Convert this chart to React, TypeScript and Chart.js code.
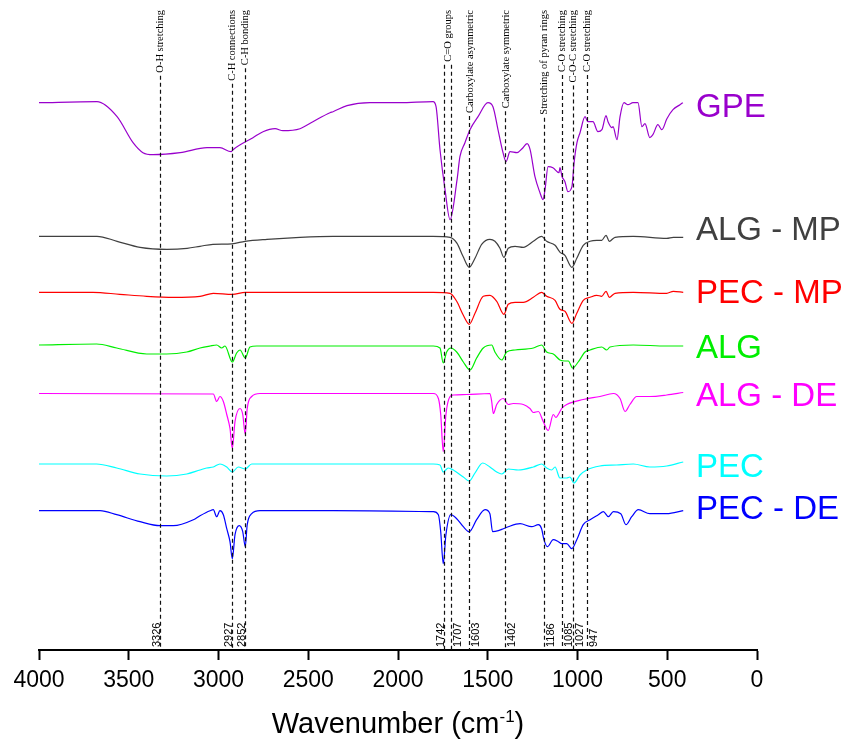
import React, { useEffect, useRef } from 'react';
import { Chart, registerables } from 'chart.js';

Chart.register(...registerables);

// ---------- data ----------
const seriesNames = ['GPE', 'ALG - MP', 'PEC - MP', 'ALG', 'ALG - DE', 'PEC', 'PEC - DE'];
const seriesColors = ['#9900CC', '#404040', '#FF0000', '#00EE00', '#FF00FF', '#00FFFF', '#0000FF'];
// vertical stacking offsets of each spectrum (a.u.)
const seriesOffsets = [547.3, 413.7, 357.7, 305, 256.5, 186, 139.3];

// [wavenumber (cm-1), relative transmittance (a.u.)]
const gpe = [[4000,0],[3677,1],[3565,-14],[3476,-40],[3421,-50],[3365,-52],[3214,-50],[3064,-45],[2992,-45],[2930,-49],[2919,-47],[2808,-35],[2752,-29],[2685,-26],[2641,-28],[2546,-26],[2474,-19],[2379,-10],[2362,-9],[2284,-3],[2156,0],[1989,0],[1805,1],[1788,-4],[1766,-47],[1738,-87],[1710,-117],[1671,-77],[1655,-54],[1627,-40],[1599,-27],[1554,-14],[1499,0],[1471,-4],[1443,-27],[1415,-50],[1398,-59],[1376,-49],[1337,-50],[1309,-46],[1281,-41],[1264,-47],[1237,-74],[1209,-90],[1192,-97],[1181,-87],[1164,-64],[1137,-65],[1103,-70],[1098,-65],[1086,-74],[1070,-79],[1053,-89],[1031,-84],[1019,-60],[1003,-40],[986,-30],[958,-14],[942,-19],[914,-19],[886,-29],[864,-27],[841,-13],[830,-19],[808,-25],[802,-24],[780,-37],[763,-14],[741,0],[719,-2],[691,0],[663,0],[641,-24],[624,-21],[597,-35],[580,-32],[552,-22],[530,-27],[502,-16],[468,-7],[429,-2],[413,0]];
const algMp = [[4000,0],[3677,0],[3565,-5],[3437,-11],[3287,-13],[3175,-12],[3103,-10],[3031,-8],[2925,-7.5],[2852,-5],[2730,-3],[2546,-1],[2362,0],[1805,0],[1710,-1],[1671,-7],[1638,-20],[1603,-31],[1571,-22],[1534,-8],[1488,-3],[1460,-5],[1432,-12],[1410,-21],[1386,-12],[1348,-10],[1302,-11],[1246,-5],[1200,0],[1172,-5],[1125,-9],[1097,-16],[1070,-19],[1031,-31],[1004,-22],[968,-9],[930,-5],[893,-4],[865,-4],[841,1],[823,-5],[791,-1],[689,0],[503,-2],[466,-1],[411,-1]];
const pecMp = [[4000,0],[3700,0],[3550,-2],[3400,-4],[3250,-5],[3103,-4],[3029,-1],[2923,-2],[2851,0],[1803,0],[1710,-1],[1673,-9],[1636,-23],[1603,-32],[1571,-21],[1525,-4],[1488,-3],[1450,-9],[1410,-22],[1386,-12],[1348,-10],[1302,-10],[1246,-5],[1200,0],[1172,-4],[1125,-8],[1098,-17],[1070,-19],[1031,-31],[1004,-21],[968,-8],[930,-5],[893,-3],[865,-4],[841,1],[823,-5],[791,-1],[689,0],[503,-1],[466,1],[411,0]];
const alg = [[4000,0],[3679,1],[3567,-3],[3400,-9],[3289,-9],[3177,-7],[3103,-3],[3047,-1],[3010,0],[2982,-3],[2964,-1],[2923,-17],[2899,-8],[2880,-5],[2851,-13],[2825,-2],[2787,-1],[1803,-1],[1766,-3],[1748,-18],[1729,-7],[1706,-3],[1673,-7],[1636,-17],[1599,-25],[1562,-13],[1525,-3],[1478,0],[1460,-7],[1422,-15],[1395,-7],[1348,-5],[1246,-3],[1200,0],[1172,-7],[1135,-9],[1098,-15],[1070,-16],[1051,-16],[1027,-23],[996,-17],[958,-7],[930,-5],[865,-2],[837,-5],[819,-2],[689,0],[503,-1],[411,-1]];
const algDe = [[4000,0],[3029,-0.5],[3010,-8],[2992,-3],[2973,-8],[2954,-21],[2936,-35],[2923,-55],[2908,-28],[2880,-15],[2865,-21],[2851,-41],[2840,-15],[2815,-3],[2769,0],[1803,0],[1775,-5],[1762,-21],[1748,-58],[1733,-21],[1710,-3],[1692,-1.5],[1617,-1],[1488,0],[1478,-8],[1469,-20],[1450,-11],[1413,-5],[1386,-11],[1358,-10],[1302,-11],[1265,-15],[1246,-19],[1218,-18],[1191,-28],[1163,-37],[1135,-21],[1120,-24],[1107,-21],[1088,-15],[1060,-11],[968,-6],[875,-3],[800,0],[763,-5],[735,-18],[708,-11],[670,-3],[597,-3],[503,-1.5],[411,1]];
const pec = [[4000,0],[3679,0],[3567,-4],[3437,-10],[3289,-12],[3177,-10],[3103,-6],[3066,-4],[3029,-3],[2992,0],[2954,-3],[2923,-8],[2890,-3],[2851,-5],[2815,0],[1803,0],[1766,-1],[1748,-8],[1720,-4],[1692,-6],[1636,-13],[1603,-17],[1571,-9],[1528,1],[1488,-3],[1450,-8],[1422,-10],[1386,-5],[1330,-6],[1246,-3],[1200,0],[1172,-4],[1144,-6],[1125,-3],[1098,-14],[1060,-14],[1042,-13],[1020,-19],[986,-11],[949,-6],[875,-2],[782,-1],[689,0],[597,-3],[503,-2],[411,2]];
const pecDe = [[4000,0],[3660,0],[3567,-4],[3437,-11],[3326,-15],[3252,-15],[3140,-9],[3103,-5],[3047,0],[3029,1],[3010,-6],[2992,0],[2973,-4],[2954,-18],[2936,-31],[2923,-48],[2908,-24],[2884,-15],[2865,-21],[2851,-36],[2840,-14],[2815,-3],[2769,0],[2360,0],[1803,-1],[1775,-4],[1762,-21],[1748,-53],[1733,-24],[1706,-4],[1673,-8],[1636,-16],[1603,-21],[1562,-9],[1515,1],[1488,-3],[1473,-21],[1441,-20],[1413,-18],[1386,-16],[1320,-13],[1255,-16],[1218,-14],[1200,-18],[1187,-29],[1168,-36],[1135,-29],[1107,-31],[1088,-33],[1060,-33],[1032,-38],[1004,-29],[968,-14],[930,-9],[884,-4],[856,-1],[828,-6],[800,-1],[759,-3],[730,-14],[698,-6],[661,1],[597,-3],[503,-3],[411,0]];
const seriesData = [gpe, algMp, pecMp, alg, algDe, pec, pecDe];

// band assignments
const bandLabels = ['O-H stretching', 'C-H connections', 'C-H bonding', 'C=O groups', 'Carboxylate asymmetric', 'Carboxylate symmetric', 'Stretching of pyran rings', 'C-O stretching', 'C-O-C stretching', 'C-O stretching'];
const bandPeaks = [[3326], [2927], [2852], [1742, 1707], [1603], [1402], [1186], [1085], [1027], [947]];
const peakNumbers = [3326, 2927, 2852, 1742, 1707, 1603, 1402, 1186, 1085, 1027, 947];
const peakNumberSide = ['left', 'left', 'left', 'left', 'right', 'right', 'right', 'right', 'right', 'right', 'right'];

const xTickMin = 0;
const xTickMax = 4000;
const xTickStep = 500;

// small vertical shift of each series name (px) relative to its baseline
const labelBaselineShift = [14, 3.7, 10.4, 13.3, 12.5, 12.7, 8.6];

const SANS = "'Liberation Sans', Arial, Helvetica, sans-serif";
const SERIF = "'Liberation Serif', 'Times New Roman', serif";

const annotationPlugin = {
  id: 'ftirAnnotations',
  afterDatasetsDraw(chart: any) {
    const { ctx, chartArea, scales } = chart;
    const xs = scales.x;
    const ys = scales.y;
    ctx.save();

    // band labels + dashed lines
    ctx.font = `10.5px ${SERIF}`;
    ctx.fillStyle = '#000';
    bandLabels.forEach((label, i) => {
      const peaks = bandPeaks[i];
      const px = peaks.reduce((s, p) => s + xs.getPixelForValue(p), 0) / peaks.length;
      const w = ctx.measureText(label).width;
      ctx.save();
      ctx.translate(px + 0.5, 10);
      ctx.rotate(-Math.PI / 2);
      ctx.textAlign = 'right';
      ctx.textBaseline = 'middle';
      ctx.fillText(label, 0, 0);
      ctx.restore();

      ctx.save();
      ctx.setLineDash([4, 3]);
      ctx.strokeStyle = '#111';
      ctx.lineWidth = 1.2;
      peaks.forEach((p) => {
        const lx = Math.round(xs.getPixelForValue(p)) + 0.5;
        ctx.beginPath();
        ctx.moveTo(lx, 10 + w + 3);
        ctx.lineTo(lx, chartArea.bottom);
        ctx.stroke();
      });
      ctx.restore();
    });

    // peak numbers at the bottom
    const fs = 11;
    ctx.font = `${fs}px ${SANS}`;
    ctx.fillStyle = '#000';
    peakNumbers.forEach((p, i) => {
      const lx = Math.round(xs.getPixelForValue(p)) + 0.5;
      const tx = peakNumberSide[i] === 'left' ? lx - 1 : lx + 2 + 0.72 * fs;
      ctx.save();
      ctx.translate(tx, chartArea.bottom - 3);
      ctx.rotate(-Math.PI / 2);
      ctx.textAlign = 'left';
      ctx.textBaseline = 'alphabetic';
      ctx.fillText(String(p), 0, 0);
      ctx.restore();
    });

    // series names
    ctx.font = `33px ${SANS}`;
    ctx.textAlign = 'left';
    ctx.textBaseline = 'alphabetic';
    seriesNames.forEach((name, i) => {
      const y = ys.getPixelForValue(seriesOffsets[i]) + labelBaselineShift[i];
      ctx.fillStyle = seriesColors[i];
      ctx.fillText(name, 696, y);
    });

    // axis title with superscript
    const cx = (chartArea.left + chartArea.right) / 2;
    const by = 733;
    const mainFont = `29px ${SANS}`;
    const supFont = `17px ${SANS}`;
    ctx.fillStyle = '#000';
    ctx.font = mainFont;
    const t1 = 'Wavenumber (cm';
    const t3 = ')';
    const w1 = ctx.measureText(t1).width;
    const w3 = ctx.measureText(t3).width;
    ctx.font = supFont;
    const t2 = '-1';
    const w2 = ctx.measureText(t2).width;
    let sx = cx - (w1 + w2 + w3) / 2;
    ctx.font = mainFont;
    ctx.fillText(t1, sx, by);
    sx += w1;
    ctx.font = supFont;
    ctx.fillText(t2, sx, by - 11);
    sx += w2;
    ctx.font = mainFont;
    ctx.fillText(t3, sx, by);

    ctx.restore();
  },
};

export default function App() {
  const canvasRef = useRef<HTMLCanvasElement | null>(null);

  useEffect(() => {
    if (!canvasRef.current) return;
    const datasets = seriesData.map((pts, i) => ({
      label: seriesNames[i],
      data: pts.map(([w, t]) => ({ x: w, y: seriesOffsets[i] + t })),
      borderColor: seriesColors[i],
      backgroundColor: seriesColors[i],
      borderWidth: 1.2,
      pointRadius: 0,
      fill: false,
      cubicInterpolationMode: 'monotone' as const,
    }));

    const chart = new Chart(canvasRef.current, {
      type: 'line',
      data: { datasets },
      options: {
        animation: false,
        responsive: false,
        devicePixelRatio: 1,
        parsing: false as any,
        layout: { padding: { left: 39, right: 97, top: 0, bottom: 0 } },
        plugins: {
          legend: { display: false },
          tooltip: { enabled: false },
          title: { display: false },
        },
        scales: {
          x: {
            type: 'linear',
            reverse: true,
            min: xTickMin,
            max: xTickMax,
            ticks: {
              stepSize: xTickStep,
              color: '#000',
              padding: 7,
              font: { family: SANS, size: 23 },
              callback: (v: any) => String(v),
              maxRotation: 0,
            },
            grid: {
              display: true,
              drawOnChartArea: false,
              drawTicks: true,
              tickLength: 10,
              tickWidth: 2,
              tickColor: '#000',
              color: '#000',
            },
            border: { display: true, color: '#000', width: 2 },
            afterFit: (scale: any) => {
              scale.height = 92;
            },
          },
          y: {
            type: 'linear',
            display: false,
            min: 0,
            max: 650,
          },
        },
      },
      plugins: [annotationPlugin],
    });
    return () => chart.destroy();
  }, []);

  return (
    <div style={{ position: 'absolute', left: 0, top: 0, width: 854, height: 742, background: '#fff' }}>
      <canvas ref={canvasRef} width={854} height={742} />
    </div>
  );
}
